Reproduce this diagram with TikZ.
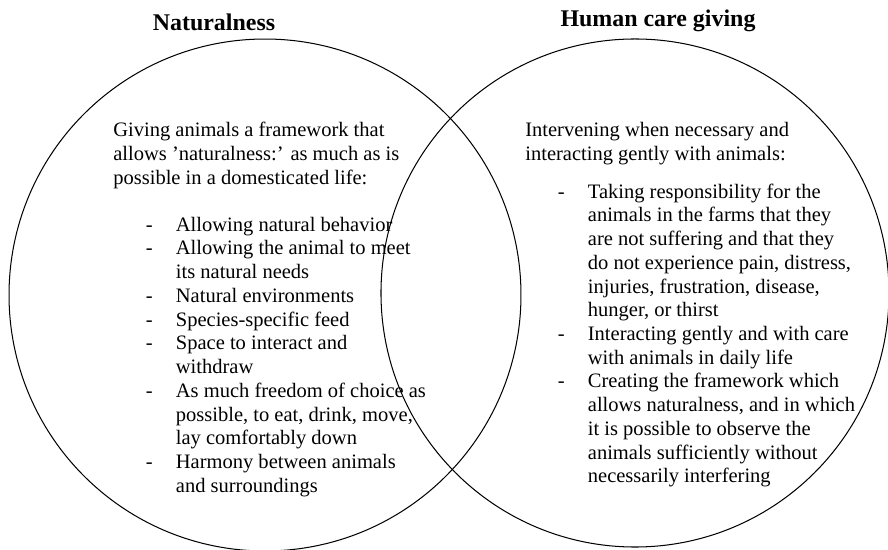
\documentclass[tikz,border=0pt]{standalone}
\usepackage{fontspec}
\setmainfont{Liberation Serif}
\usepackage{tikz}

\tikzset{
	venn/.style={circle, draw, line width=0.6pt, inner sep=0pt},
	heading/.style={font=\fontsize{14}{16}\selectfont\bfseries, anchor=base, inner sep=0pt},
	block/.style={font=\fontsize{12}{13.88}\selectfont, anchor=base west, inner sep=0pt}
}

\begin{document}
\begin{tikzpicture}[x=0.585pt, y=-0.585pt]
		\useasboundingbox (0,0) rectangle (888,550);
		\node[venn, minimum size=299.5pt] (natural) at (265,295) {};
		\node[venn, minimum size=297.2pt] (care) at (635,293) {};
		\node[heading] (naturaltitle) at (214,31) {Naturalness};
		\node[heading] (caretitle) at (658,27) {Human care giving};
		\node[block] (naturaltext) at (113,137) {\begin{tabular}[t]{@{\hspace{19pt}}l@{\hspace{13.6pt}}l@{}}
			\multicolumn{2}{@{}l@{}}{Giving animals a framework that}\\
			\multicolumn{2}{@{}l@{}}{allows 'naturalness:' as much as is}\\
			\multicolumn{2}{@{}l@{}}{possible in a domesticated life:}\\[13.5pt]
			- & Allowing natural behavior\\
			- & Allowing the animal to meet\\
			  & its natural needs\\
			- & Natural environments\\
			- & Species-specific feed\\
			- & Space to interact and\\
			  & withdraw\\
			- & As much freedom of choice as\\
			  & possible, to eat, drink, move,\\
			  & lay comfortably down\\
			- & Harmony between animals\\
			  & and surroundings
		\end{tabular}};
		\node[block] (caretext) at (525,137) {\begin{tabular}[t]{@{\hspace{19pt}}l@{\hspace{13.6pt}}l@{}}
			\multicolumn{2}{@{}l@{}}{Intervening when necessary and}\\
			\multicolumn{2}{@{}l@{}}{interacting gently with animals:}\\[8pt]
			- & Taking responsibility for the\\
			  & animals in the farms that they\\
			  & are not suffering and that they\\
			  & do not experience pain, distress,\\
			  & injuries, frustration, disease,\\
			  & hunger, or thirst\\
			- & Interacting gently and with care\\
			  & with animals in daily life\\
			- & Creating the framework which\\
			  & allows naturalness, and in which\\
			  & it is possible to observe the\\
			  & animals sufficiently without\\
			  & necessarily interfering
		\end{tabular}};
\end{tikzpicture}
\end{document}
